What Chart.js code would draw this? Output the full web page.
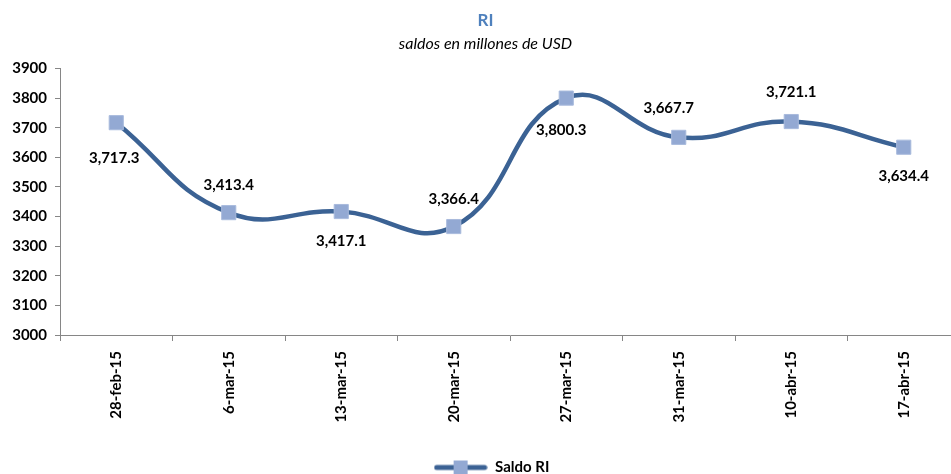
<!DOCTYPE html>
<html>
<head>
<meta charset="utf-8">
<script src="https://cdn.jsdelivr.net/npm/chart.js@4"></script>
<style>
  body { margin: 0; background: #fff; overflow: hidden; }
  /* canvas runs a bit past the right edge: the reference plot is cut off there */
  #wrap { width: 971px; height: 474px; }
</style>
</head>
<body>
<div id="wrap"><canvas id="lineChart"></canvas></div>
<script>
const labels = ['28-feb-15', '6-mar-15', '13-mar-15', '20-mar-15', '27-mar-15', '31-mar-15', '10-abr-15', '17-abr-15'];
const saldoRI = [3717.3, 3413.4, 3417.1, 3366.4, 3800.3, 3667.7, 3721.1, 3634.4];
const yTicks = [3000, 3900, 100]; // min, max, step

// label offsets (dx, dy) from each point
const labelOffsets = [[-2, 35], [0, -27], [0, 30], [0, -27], [-5, 32], [-10, -29], [0, -29], [0, 29]];

const lineColor = '#3B6294';
const markerColor = '#93A9D3';
const FONT = 'Lato, "Liberation Sans", sans-serif';

// legend symbol: line with square marker
const legendIcon = document.createElement('canvas');
legendIcon.width = 54; legendIcon.height = 16;
(function () {
  const c = legendIcon.getContext('2d');
  c.strokeStyle = lineColor; c.lineWidth = 5; c.lineCap = 'round';
  c.beginPath(); c.moveTo(3, 8); c.lineTo(51, 8); c.stroke();
  c.fillStyle = markerColor; c.fillRect(20, 1, 14, 14);
})();

const valueLabels = {
  id: 'valueLabels',
  afterLayout(chart) {
    // push legend down to the bottom edge and a bit right
    const lg = chart.legend;
    if (lg) { lg.top += 11; lg.bottom += 11; lg.left += 6; lg.right += 6; }
  },
  afterDatasetsDraw(chart) {
    const ctx = chart.ctx;
    const meta = chart.getDatasetMeta(0);
    ctx.save();
    ctx.font = 'bold 15px ' + FONT;
    ctx.fillStyle = '#000';
    ctx.textAlign = 'center';
    ctx.textBaseline = 'middle';
    meta.data.forEach((pt, i) => {
      const txt = saldoRI[i].toLocaleString('en-US', { minimumFractionDigits: 1, maximumFractionDigits: 1 });
      ctx.fillText(txt, pt.x + labelOffsets[i][0], pt.y + labelOffsets[i][1]);
    });
    ctx.restore();
  }
};

const ctx = document.getElementById('lineChart').getContext('2d');

const myChart1 = new Chart(ctx, {
  type: 'line',
  data: {
    labels: labels,
    datasets: [{
      label: 'Saldo RI',
      data: saldoRI,
      borderColor: lineColor,
      borderWidth: 4.5,
      tension: 0.45,
      pointStyle: 'rect',
      pointRadius: 10,
      pointHoverRadius: 10,
      pointBackgroundColor: markerColor,
      pointBorderColor: '#A9BBDD',
      pointBorderWidth: 1,
      fill: false
    }]
  },
  options: {
    responsive: true,
    maintainAspectRatio: false,
    animation: false,
    layout: { padding: { left: 0, right: 0, top: 0, bottom: 0 } },
    plugins: {
      title: {
        display: true,
        text: 'RI',
        color: '#4F81BD',
        font: { family: FONT, size: 17, weight: 'bold' },
        padding: { top: 10, bottom: 4 }
      },
      subtitle: {
        display: true,
        text: 'saldos en millones de USD',
        color: '#000',
        font: { family: FONT, size: 16, style: 'italic' },
        padding: { top: 0, bottom: 15 }
      },
      legend: {
        position: 'bottom',
        labels: {
          color: '#000',
          font: { family: FONT, size: 15, weight: 'bold' },
          usePointStyle: true,
          pointStyleWidth: 54,
          padding: 2,
          generateLabels: () => [{ text: 'Saldo RI', pointStyle: legendIcon, fontColor: '#000', lineWidth: 0, datasetIndex: 0 }]
        }
      },
      tooltip: { enabled: false }
    },
    scales: {
      x: {
        offset: true,
        grid: { offset: true, drawOnChartArea: false, tickLength: 6, color: '#868686' },
        border: { color: '#868686' },
        ticks: {
          color: '#000',
          minRotation: 90,
          maxRotation: 90,
          padding: 10,
          font: { family: FONT, size: 15, weight: 'bold' }
        },
        afterFit: (scale) => { scale.height = 112; }
      },
      y: {
        min: yTicks[0],
        max: yTicks[1],
        grid: { drawOnChartArea: false, tickLength: 5, color: '#868686' },
        border: { color: '#868686' },
        ticks: {
          stepSize: yTicks[2],
          color: '#000',
          padding: 8,
          font: { family: FONT, size: 15, weight: 'bold' },
          callback: (v) => String(v)
        },
        afterFit: (scale) => { scale.width = 60; }
      }
    }
  },
  plugins: [valueLabels]
});
</script>
</body>
</html>
